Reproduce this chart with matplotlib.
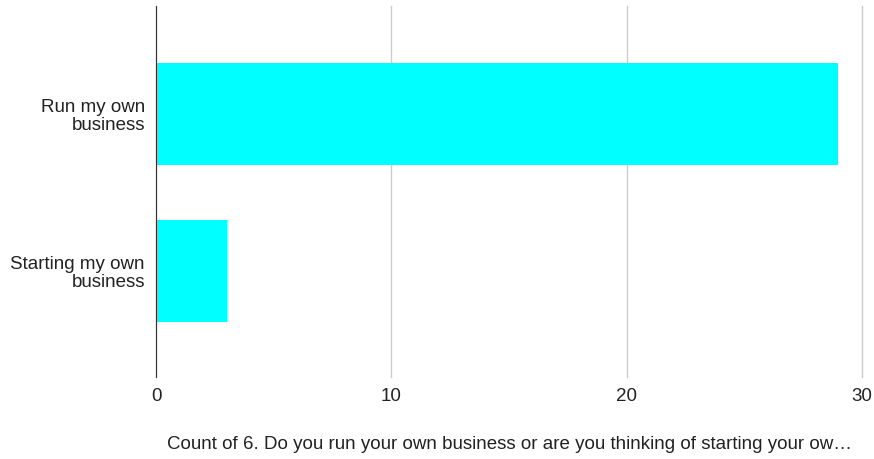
import matplotlib.pyplot as plt

plt.rcParams['font.family'] = ['Liberation Sans', 'DejaVu Sans']

categories = ["Run my own\nbusiness", "Starting my own\nbusiness"]
counts = [29, 3]
x_ticks = [0, 10, 20, 30]
x_label = "Count of 6. Do you run your own business or are you thinking of starting your ow\u2026"

fs = 13.5

fig = plt.figure(figsize=(8.74, 4.59), dpi=100)
ax = fig.add_axes([156 / 874, 1 - 377 / 459, (862 - 156) / 874, (377 - 6) / 459])

ax.barh(range(len(categories)), counts, height=0.65, color="#00ffff", zorder=3)

ax.set_xlim(0, 30)
ax.set_ylim(1.675, -0.69)
ax.set_xticks(x_ticks)
ax.set_yticks(range(len(categories)))
ax.set_yticklabels(categories, fontsize=fs, color="#222222", linespacing=1.05)
ax.tick_params(axis="x", length=0, labelsize=fs, labelcolor="#222222", pad=8)
ax.tick_params(axis="y", length=0, pad=8)
ax.grid(axis="x", color="#cccccc", linewidth=1.0, zorder=0)
for gl in ax.get_xgridlines():
    gl.set_clip_on(False)

for s in ["top", "right", "bottom"]:
    ax.spines[s].set_visible(False)
ax.spines["left"].set_color("#333333")
ax.spines["left"].set_zorder(4)

ax.set_xlabel(x_label, fontsize=fs, color="#222222", labelpad=22)

fig.savefig("out.png", dpi=100)
